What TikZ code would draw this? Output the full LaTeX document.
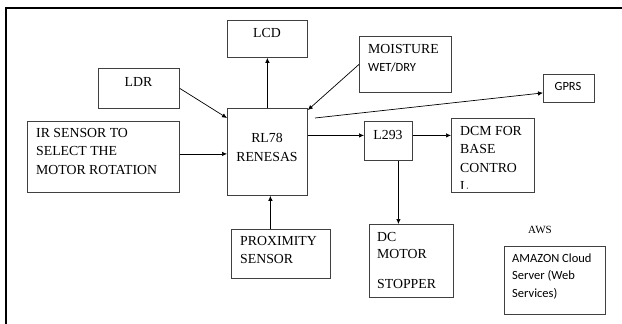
\documentclass[tikz,border=0pt]{standalone}
\usepackage{fontspec}
\setmainfont{Liberation Serif}
\newfontfamily\calibri{Carlito}
\usetikzlibrary{arrows.meta}

\begin{document}
\begin{tikzpicture}[x=1pt,y=-1pt,
  blk/.style={draw=black!75,line width=0.8pt,inner sep=0,anchor=north west},
  txt/.style={inner sep=0,anchor=base west,align=left,font=\fontsize{13.8}{18.5}\selectfont},
  sans/.style={txt,font=\calibri\fontsize{12.5}{17.5}\selectfont},
  arr/.style={-{Latex[length=5pt,width=4.5pt]},line width=0.7pt}]
  \useasboundingbox (0,0) rectangle (622,324);
  \draw[line width=1.6pt] (6,324) -- (6,8) -- (622,8);

  \node[blk,minimum width=80,minimum height=37] (lcd) at (227,20) {};
  \node[blk,minimum width=81,minimum height=40] (ldr) at (98,68) {};
  \node[blk,minimum width=152,minimum height=71] (ir) at (27,121) {};
  \node[blk,minimum width=80,minimum height=87] (rl) at (227,108) {};
  \node[blk,minimum width=92,minimum height=56] (moist) at (359,36) {};
  \node[blk,minimum width=51,minimum height=28] (gprs) at (543,74) {};
  \node[blk,minimum width=48,minimum height=39] (l293) at (364,121) {};
  \node[blk,minimum width=83,minimum height=74] (dcm) at (451,118) {};
  \node[blk,minimum width=99,minimum height=49] (prox) at (231,229) {};
  \node[blk,minimum width=84,minimum height=73] (dcmot) at (369,224) {};
  \node[blk,minimum width=101,minimum height=68] (cloud) at (504,246) {};

  \node[txt,anchor=base] (lcdt) at (267,37) {LCD};
  \node[txt,anchor=base] (ldrt) at (138.5,86) {LDR};
  \node[txt] (irt) at (36,174) {IR SENSOR TO\\SELECT THE\\MOTOR ROTATION};
  \node[txt,anchor=base,align=center] (rlt) at (267,161) {RL78\\RENESAS};
  \node[txt] (moistt) at (368,53) {MOISTURE};
  \node[sans] (wett) at (368,71) {WET/DRY};
  \node[sans,anchor=base] (gprst) at (568,90) {GPRS};
  \node[txt,anchor=base] (l293t) at (388,139) {L293};
  \begin{scope}
    \clip (451,118) rectangle (534,188.5);
    \node[txt] (dcmt) at (460,190.5) {DCM FOR\\BASE\\CONTRO\\L};
  \end{scope}
  \node[txt,font=\fontsize{13.8}{18}\selectfont] (proxt) at (240,263) {PROXIMITY\\SENSOR};
  \node[txt,font=\fontsize{13.8}{17}\selectfont] (dcmott) at (377,288) {DC\\MOTOR\\[13pt]STOPPER};
  \node[txt,anchor=base,font=\fontsize{11}{13}\selectfont] (awst) at (540,233) {AWS};
  \node[sans] (cloudt) at (512,297) {AMAZON Cloud\\Server (Web\\Services)};

  \coordinate (gstart) at (315,118);
  \draw[arr] (rl.north) -- (lcd.south);
  \draw[arr] (ldr.east) -- (rl.140);
  \draw[arr] ([yshift=3pt]ir.east) -- ([yshift=3pt]ir.east -| rl.west);
  \draw[arr] (moist.west) -- (rl.46);
  \draw[arr] (gstart) -- ([yshift=-4.5pt]gprs.west);
  \draw[arr] ([yshift=5.5pt]l293.west -| rl.east) -- ([yshift=5.5pt]l293.west);
  \draw[arr] ([yshift=5.5pt]l293.east) -- ([yshift=5.5pt]l293.east -| dcm.west);
  \draw[arr] ([xshift=10pt]l293.south) -- ([xshift=10pt]l293.south |- dcmot.north);
  \draw[arr] ([xshift=3pt]rl.south |- prox.north) -- ([xshift=3pt]rl.south);
\end{tikzpicture}
\end{document}
